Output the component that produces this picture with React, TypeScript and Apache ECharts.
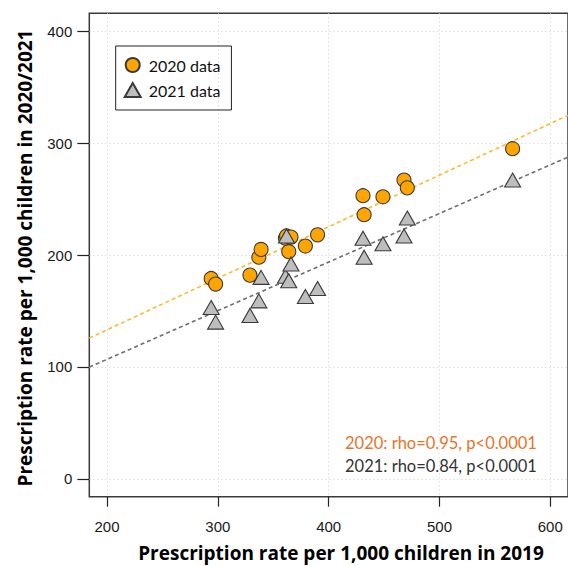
import React, { useEffect, useRef } from "react";
import * as echarts from "echarts";

// Prescription rate per 1,000 children in 2019 (shared x for both years)
const rate2019 = [294, 298, 329, 337, 339, 361, 362, 364, 366, 379, 390, 431, 432, 449, 468, 471, 566];
// Same areas, rates in 2020 and 2021
const rate2020 = [179, 174, 182, 198, 205, 215, 217, 203, 216, 208, 218, 253, 236, 252, 267, 260, 295];
const rate2021 = [153, 140, 146, 159, 180, 181, 217, 177, 192, 163, 170, 215, 198, 210, 217, 233, 267];

const xTicks = [200, 300, 400, 500, 600];
const yTicks = [0, 100, 200, 300, 400];

// Linear fits (intercept, slope) drawn as dashed reference lines
const fit2020 = { intercept: 41.0, slope: 0.4607 };
const fit2021 = { intercept: 19.9, slope: 0.4344 };

const X_MIN = 184;
const X_MAX = 616;
const Y_MIN = -16;
const Y_MAX = 416;

const stats2020 = "2020: rho=0.95, p<0.0001";
const stats2021 = "2021: rho=0.84, p<0.0001";

const fitLine = (f: { intercept: number; slope: number }) =>
  [X_MIN, X_MAX].map((x) => [x, f.intercept + f.slope * x]);

export default function App() {
  const ref = useRef<HTMLDivElement>(null);

  useEffect(() => {
    if (!ref.current) return;
    const chart = echarts.init(ref.current, null, { renderer: "svg" });

    const tickFont = { fontFamily: "Liberation Sans", fontSize: 15, color: "#1a1a1a" };
    const dotted = { color: "#cfcfcf", width: 1, type: [1, 3] as number[] };
    const titleStyle = {
      fontFamily: "Open Sans",
      fontWeight: "bold",
      fontSize: 19,
      lineHeight: 20,
      fill: "#000",
      align: "center",
      verticalAlign: "middle",
    };

    chart.setOption({
      animation: false,
      backgroundColor: "#ffffff",
      grid: {
        left: 89.3,
        top: 13.3,
        width: 481.5,
        height: 483.4,
        show: true,
        borderColor: "#3a3a3a",
        borderWidth: 1.5,
        backgroundColor: "transparent",
      },
      xAxis: {
        type: "value",
        min: X_MIN,
        max: X_MAX,
        axisLine: { show: false, onZero: false },
        axisTick: {
          show: true,
          customValues: xTicks,
          length: 10,
          lineStyle: { color: "#222", width: 1.2 },
        },
        axisLabel: { ...tickFont, customValues: xTicks, margin: 22 },
        splitLine: { show: true, lineStyle: dotted },
      },
      yAxis: {
        type: "value",
        min: Y_MIN,
        max: Y_MAX,
        axisLine: { show: false, onZero: false },
        axisTick: {
          show: true,
          customValues: yTicks,
          length: 12,
          lineStyle: { color: "#222", width: 1.2 },
        },
        axisLabel: { ...tickFont, customValues: yTicks, margin: 17 },
        splitLine: { show: true, lineStyle: dotted },
      },
      legend: {
        orient: "vertical",
        left: 115.7,
        top: 46,
        data: ["2020 data", "2021 data"],
        borderColor: "#222",
        borderWidth: 1,
        padding: [11, 11, 12, 8],
        itemGap: 9,
        itemWidth: 16,
        itemHeight: 14,
        textStyle: {
          fontFamily: "Lato",
          fontSize: 16,
          color: "#111",
          padding: [0, 0, 0, 3],
        },
      },
      series: [
        {
          type: "line",
          data: fitLine(fit2020),
          symbol: "none",
          lineStyle: { color: "#ffb833", width: 1.6, type: [4, 3] },
          silent: true,
          z: 1,
        },
        {
          type: "line",
          data: fitLine(fit2021),
          symbol: "none",
          lineStyle: { color: "#6e6e6e", width: 1.6, type: [4, 3] },
          silent: true,
          z: 1,
        },
        {
          name: "2020 data",
          type: "scatter",
          data: rate2019.map((x, i) => [x, rate2020[i]]),
          symbol: "circle",
          symbolSize: 14,
          itemStyle: { color: "#FFA500", borderColor: "#3a3a3a", borderWidth: 1.1, opacity: 1 },
          z: 3,
        },
        {
          name: "2021 data",
          type: "scatter",
          data: rate2019.map((x, i) => [x, rate2021[i]]),
          symbol: "triangle",
          symbolSize: [16, 14],
          itemStyle: { color: "#BEBEBE", borderColor: "#3a3a3a", borderWidth: 1.1, opacity: 1 },
          z: 4,
        },
      ],
      graphic: [
        {
          type: "text",
          x: 341,
          y: 553,
          style: { ...titleStyle, text: "Prescription rate per 1,000 children in 2019" },
        },
        {
          type: "text",
          x: 25,
          y: 258,
          rotation: Math.PI / 2,
          style: { ...titleStyle, text: "Prescription rate per 1,000 children in 2020/2021" },
        },
        {
          type: "text",
          x: 345,
          y: 443,
          style: {
            text: stats2020,
            fontFamily: "Lato",
            fontSize: 16.5,
            fill: "#e8742a",
            align: "left",
            verticalAlign: "middle",
          },
        },
        {
          type: "text",
          x: 345,
          y: 466,
          style: {
            text: stats2021,
            fontFamily: "Lato",
            fontSize: 16.5,
            fill: "#333333",
            align: "left",
            verticalAlign: "middle",
          },
        },
      ],
    });

    return () => chart.dispose();
  }, []);

  return (
    <div
      ref={ref}
      style={{ position: "fixed", left: 0, top: 0, width: 568, height: 566 }}
    />
  );
}
